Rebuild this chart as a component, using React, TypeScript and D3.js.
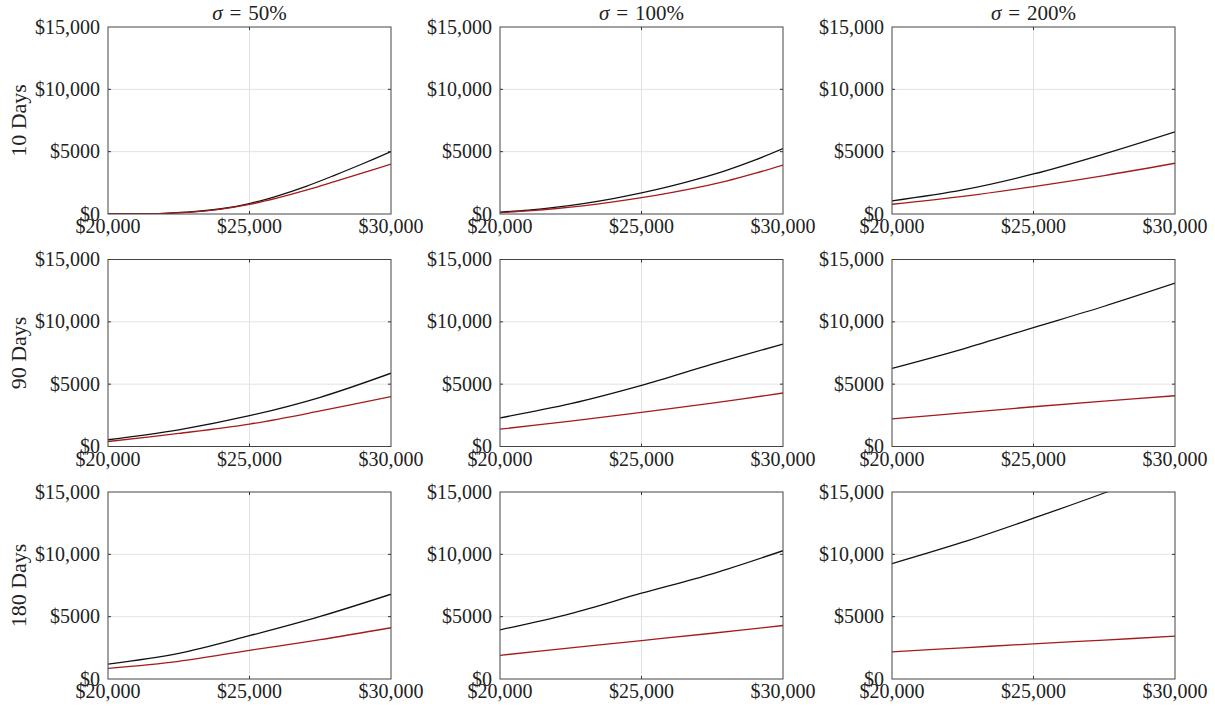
import React, { useEffect, useRef } from 'react';
import * as d3 from 'd3';

// strike prices (x) and option values (y)
const volLabels = ['50%', '100%', '200%'];
const dayLabels = ['10 Days', '90 Days', '180 Days'];
const strikesFine = [20000, 21000, 22000, 23000, 24000, 25000, 26000, 27000, 28000, 29000, 30000];
const strikes = [20000, 22500, 25000, 27500, 30000];
const xTicks = [20000, 25000, 30000];
const yTicks = [0, 5000, 10000, 15000];

// row 1 (10 days)
const black10d50 = [0, 5, 55, 180, 420, 840, 1460, 2220, 3100, 4030, 5000];
const red10d50 = [0, 5, 50, 165, 390, 770, 1290, 1910, 2590, 3290, 4000];
const black10d100 = [150, 310, 550, 860, 1240, 1690, 2210, 2810, 3500, 4320, 5250];
const red10d100 = [110, 250, 440, 680, 970, 1310, 1700, 2140, 2640, 3250, 3930];
const black10d200 = [1050, 1930, 3210, 4820, 6590];
const red10d200 = [780, 1420, 2200, 3080, 4070];
// row 2 (90 days)
const black90d50 = [540, 1340, 2470, 3950, 5880];
const red90d50 = [400, 1050, 1800, 2850, 4000];
const black90d100 = [2300, 3430, 4900, 6600, 8220];
const red90d100 = [1390, 2040, 2730, 3480, 4290];
const black90d200 = [6270, 7820, 9540, 11250, 13100];
const red90d200 = [2220, 2700, 3190, 3640, 4070];
// row 3 (180 days)
const black180d50 = [1200, 2060, 3470, 5020, 6800];
const red180d50 = [850, 1420, 2300, 3150, 4110];
const black180d100 = [3940, 5250, 6880, 8440, 10290];
const red180d100 = [1900, 2490, 3080, 3670, 4290];
const black180d200 = [9250, 10970, 12900, 14920, 17100];
const red180d200 = [2180, 2500, 2820, 3120, 3440];

const panels = [
  [
    { xs: strikesFine, black: black10d50, red: red10d50 },
    { xs: strikesFine, black: black10d100, red: red10d100 },
    { xs: strikes, black: black10d200, red: red10d200 },
  ],
  [
    { xs: strikes, black: black90d50, red: red90d50 },
    { xs: strikes, black: black90d100, red: red90d100 },
    { xs: strikes, black: black90d200, red: red90d200 },
  ],
  [
    { xs: strikes, black: black180d50, red: red180d50 },
    { xs: strikes, black: black180d100, red: red180d100 },
    { xs: strikes, black: black180d200, red: red180d200 },
  ],
];

const W = 1215;
const H = 709;
const FONT = '"Liberation Serif", "Times New Roman", serif';

const App: React.FC = () => {
  const svgRef = useRef<SVGSVGElement>(null);

  useEffect(() => {
    if (!svgRef.current) return;
    const svg = d3.select(svgRef.current);
    svg.selectAll('*').remove();

    const left = 108;
    const top = 27;
    const pw = 283;
    const ph = 187;
    const colStep = 392;
    const rowStep = 232.5;

    const fmt = (v: number) => (v >= 10000 ? '$' + d3.format(',')(v) : '$' + v);

    panels.forEach((row, r) => {
      row.forEach((p, c) => {
        const g = svg.append('g').attr('transform', `translate(${left + c * colStep},${top + r * rowStep})`);
        const x = d3.scaleLinear().domain([20000, 30000]).range([0, pw]);
        const y = d3.scaleLinear().domain([0, 15000]).range([ph, 0]);

        const clipId = `clip-${r}-${c}`;
        g.append('clipPath').attr('id', clipId)
          .append('rect').attr('width', pw).attr('height', ph);

        // grid
        g.selectAll('.gx').data(xTicks.slice(1, -1)).join('line')
          .attr('x1', (d) => x(d)).attr('x2', (d) => x(d))
          .attr('y1', 0).attr('y2', ph)
          .attr('stroke', '#e3e3e3').attr('stroke-width', 1);
        g.selectAll('.gy').data(yTicks.slice(1, -1)).join('line')
          .attr('x1', 0).attr('x2', pw)
          .attr('y1', (d) => y(d)).attr('y2', (d) => y(d))
          .attr('stroke', '#e3e3e3').attr('stroke-width', 1);

        // inner ticks
        const tl = 3;
        yTicks.slice(1, -1).forEach((t) => {
          g.append('line').attr('x1', 0).attr('x2', tl).attr('y1', y(t)).attr('y2', y(t)).attr('stroke', '#333');
          g.append('line').attr('x1', pw - tl).attr('x2', pw).attr('y1', y(t)).attr('y2', y(t)).attr('stroke', '#333');
        });
        xTicks.slice(1, -1).forEach((t) => {
          g.append('line').attr('x1', x(t)).attr('x2', x(t)).attr('y1', ph).attr('y2', ph - tl).attr('stroke', '#333');
          g.append('line').attr('x1', x(t)).attr('x2', x(t)).attr('y1', 0).attr('y2', tl).attr('stroke', '#333');
        });

        const line = (vals: number[]) =>
          d3.line<number>()
            .x((_, i) => x(p.xs[i]))
            .y((d) => y(d))
            .curve(d3.curveCatmullRom.alpha(0.5))(vals);

        g.append('path').attr('d', line(p.black) as string)
          .attr('fill', 'none').attr('stroke', '#111').attr('stroke-width', 1.3)
          .attr('clip-path', `url(#${clipId})`);
        g.append('path').attr('d', line(p.red) as string)
          .attr('fill', 'none').attr('stroke', '#a51a1a').attr('stroke-width', 1.3)
          .attr('clip-path', `url(#${clipId})`);

        // frame
        g.append('rect').attr('width', pw).attr('height', ph)
          .attr('fill', 'none').attr('stroke', '#444').attr('stroke-width', 1);

        // tick labels
        g.selectAll('.yl').data(yTicks).join('text')
          .attr('x', -8).attr('y', (d) => y(d)).attr('dy', '0.33em')
          .attr('text-anchor', 'end')
          .attr('font-family', FONT).attr('font-size', 20).attr('fill', '#222')
          .text((d) => fmt(d));
        g.selectAll('.xl').data(xTicks).join('text')
          .attr('x', (d) => x(d)).attr('y', ph + 19)
          .attr('text-anchor', 'middle')
          .attr('font-family', FONT).attr('font-size', 20).attr('fill', '#222')
          .text((d) => fmt(d));

        if (r === 0) {
          const t = g.append('text').attr('x', pw / 2).attr('y', -7)
            .attr('text-anchor', 'middle')
            .attr('font-family', FONT).attr('font-size', 21).attr('fill', '#222');
          t.append('tspan').attr('font-style', 'italic').text('σ');
          t.append('tspan').attr('dx', 7).text('=');
          t.append('tspan').attr('dx', 7).text(volLabels[c]);
        }
        if (c === 0) {
          g.append('text')
            .attr('transform', `translate(${-82},${ph / 2}) rotate(-90)`)
            .attr('text-anchor', 'middle')
            .attr('font-family', FONT).attr('font-size', 22).attr('fill', '#222')
            .text(dayLabels[r]);
        }
      });
    });
  }, []);

  return (
    <svg
      ref={svgRef}
      width={W}
      height={H}
      viewBox={`0 0 ${W} ${H}`}
      style={{ position: 'absolute', left: 0, top: 0, background: '#fff' }}
    />
  );
};

export default App;
